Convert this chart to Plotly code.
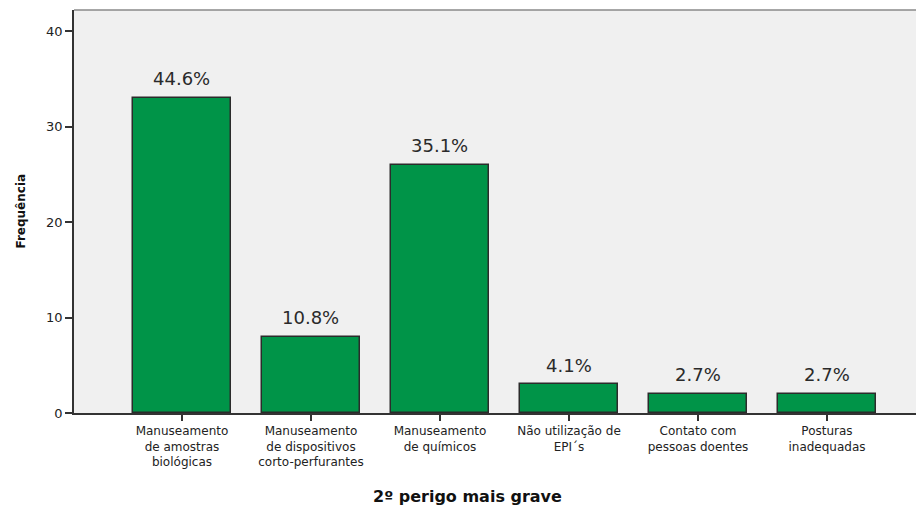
import plotly.graph_objects as go

categories = [
    "Manuseamento<br>de amostras<br>biológicas",
    "Manuseamento<br>de dispositivos<br>corto-perfurantes",
    "Manuseamento<br>de químicos",
    "Não utilização de<br>EPI´s",
    "Contato com<br>pessoas doentes",
    "Posturas<br>inadequadas",
]
counts = [33, 8, 26, 3, 2, 2]
y_ticks = [0, 10, 20, 30, 40]
x_title = "2º perigo mais grave"
y_title = "Frequência"

total = sum(counts)
pct_labels = [f"{v / total * 100:.1f}%" for v in counts]

fig = go.Figure()
fig.add_trace(go.Bar(
    x=categories, y=counts, width=0.76,
    marker=dict(color="#009448", line=dict(color="#2b2b2b", width=1.5)),
    hoverinfo="skip",
))

for c, v, t in zip(categories, counts, pct_labels):
    fig.add_annotation(x=c, y=v, text=t, showarrow=False, yanchor="middle",
                       yshift=19, font=dict(family="DejaVu Sans", size=18, color="#2a2a2a"))

fig.add_annotation(xref="paper", yref="paper", x=0, y=0.5, xanchor="center", yanchor="middle",
                   xshift=-54, textangle=-90, text=y_title, showarrow=False,
                   font=dict(family="DejaVu Sans", size=12, color="#111111", weight="bold"))
fig.add_annotation(xref="paper", yref="paper", x=0, y=0, xanchor="center", yanchor="middle",
                   xshift=393, yshift=-83, text=x_title, showarrow=False,
                   font=dict(family="DejaVu Sans", size=16, color="#111111", weight="bold"))

fig.add_shape(type="line", xref="paper", yref="paper", x0=0, x1=1, y0=1, y1=1,
              line=dict(color="#8a8a8a", width=1.5))

fig.update_layout(
    width=924, height=500,
    margin=dict(l=66, r=0, t=2, b=95),
    paper_bgcolor="white", plot_bgcolor="#f0f0f0",
    showlegend=False, bargap=0,
    xaxis=dict(
        type="category", range=[-0.837, 5.814],
        showline=True, linecolor="#333333", linewidth=1.5,
        ticks="outside", ticklen=6, tickcolor="#333333", tickwidth=1.5,
        showgrid=False, zeroline=False,
        tickfont=dict(family="DejaVu Sans", size=12, color="#222222"),
    ),
    yaxis=dict(
        range=[0, 42.2], tickvals=y_ticks,
        showline=True, linecolor="#333333", linewidth=1.5,
        ticks="outside", ticklen=7, tickcolor="#333333", tickwidth=1.5,
        showgrid=False, zeroline=False,
        tickfont=dict(family="DejaVu Sans", size=13, color="#222222"),
    ),
)

fig.write_html("out.html")
